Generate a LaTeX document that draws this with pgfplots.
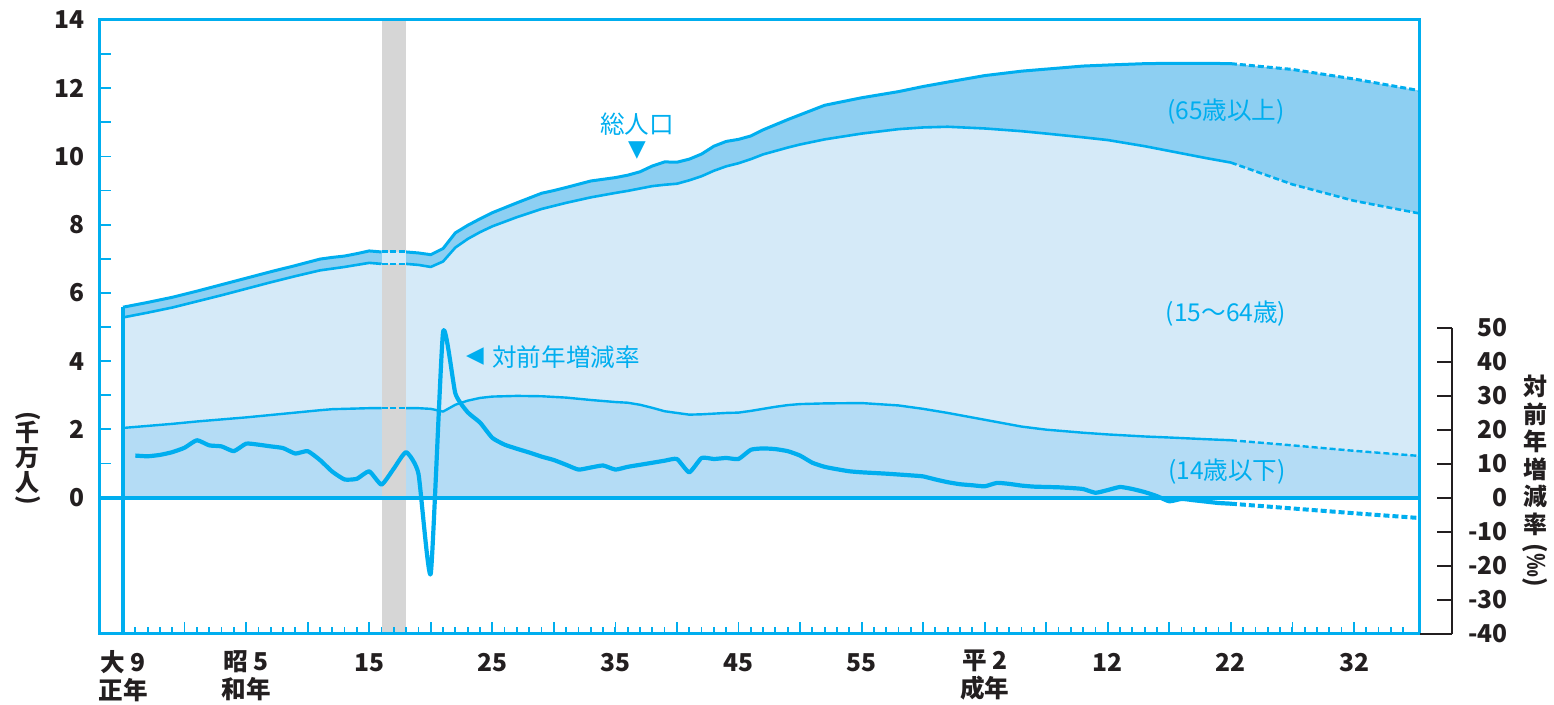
\documentclass[border=0pt]{standalone}
\usepackage{fontspec}
\setmainfont{Noto Sans CJK JP}
\newfontfamily\symfont{DejaVu Sans}
\usepackage{graphicx}
\usepackage{pgfplots}
\usepackage{pgfplotstable}
\pgfplotsset{compat=1.18}

\definecolor{cy}{RGB}{0,174,239}
\definecolor{bandA}{RGB}{141,207,242}
\definecolor{bandB}{RGB}{213,234,248}
\definecolor{bandC}{RGB}{180,220,245}
\definecolor{warband}{RGB}{214,214,214}
\definecolor{ink}{RGB}{35,31,32}

% year, total (T), 0-64 (M), 0-14 (Y)  [10 million persons]
\pgfplotstableread{
year T M Y
1920 5.58 5.28 2.04
1922 5.72 5.42 2.10
1924 5.87 5.57 2.16
1926 6.05 5.75 2.23
1928 6.24 5.93 2.29
1930 6.43 6.12 2.35
1932 6.62 6.31 2.42
1934 6.80 6.49 2.49
1936 6.99 6.66 2.56
1937 7.04 6.71 2.59
1938 7.08 6.76 2.60
1939 7.15 6.82 2.61
1940 7.23 6.88 2.62
1941 7.20 6.85 2.62
1943 7.20 6.85 2.62
1944 7.17 6.82 2.62
1945 7.12 6.76 2.60
1946 7.30 6.92 2.52
1947 7.76 7.33 2.72
1948 7.98 7.58 2.84
1949 8.17 7.78 2.92
1950 8.35 7.95 2.96
1952 8.64 8.22 2.98
1954 8.92 8.46 2.97
1955 9.00 8.55 2.95
1956 9.09 8.64 2.93
1958 9.28 8.80 2.86
1960 9.38 8.93 2.80
1961 9.45 8.99 2.78
1962 9.55 9.06 2.72
1963 9.72 9.13 2.63
1964 9.84 9.17 2.53
1965 9.83 9.20 2.48
1966 9.92 9.30 2.43
1967 10.07 9.42 2.44
1968 10.30 9.58 2.46
1969 10.44 9.71 2.48
1970 10.50 9.80 2.49
1971 10.60 9.92 2.54
1972 10.78 10.06 2.60
1973 10.93 10.16 2.66
1974 11.08 10.26 2.71
1975 11.22 10.35 2.74
1977 11.50 10.50 2.76
1980 11.72 10.67 2.77
1983 11.90 10.80 2.70
1985 12.05 10.85 2.60
1987 12.18 10.87 2.48
1990 12.37 10.82 2.28
1993 12.50 10.74 2.08
1995 12.56 10.67 1.99
1998 12.65 10.56 1.90
2000 12.68 10.48 1.85
2003 12.72 10.30 1.79
2005 12.73 10.16 1.76
2008 12.73 9.95 1.71
2010 12.72 9.82 1.68
2015 12.55 9.18 1.53
2020 12.27 8.70 1.37
2025.3 11.93 8.33 1.22
}\pop

% year, change on previous year (per mille)
\pgfplotstableread{
year r
1921 12.3
1922 12.1
1923 12.5
1924 13.3
1925 14.6
1926 16.8
1927 15.3
1928 15.0
1929 13.6
1930 15.8
1931 15.5
1932 15.0
1933 14.5
1934 12.9
1935 13.6
1936 11.0
1937 7.6
1938 5.3
1939 5.5
1940 7.7
1941 3.8
1942 8.5
1943 13.3
1944 7.0
1945 -22.3
1946 48.5
1947 30.5
1948 25.0
1949 22.0
1950 17.5
1951 15.5
1952 14.3
1953 13.2
1954 12.0
1955 11.0
1956 9.6
1957 8.2
1958 8.8
1959 9.4
1960 8.2
1961 9.0
1962 9.6
1963 10.2
1964 10.8
1965 11.3
1966 7.4
1967 11.6
1968 11.3
1969 11.6
1970 11.3
1971 14.0
1972 14.4
1973 14.2
1974 13.6
1975 12.3
1976 10.2
1977 9.0
1978 8.3
1979 7.7
1980 7.4
1982 7.0
1984 6.5
1985 6.2
1986 5.3
1987 4.5
1988 3.9
1989 3.6
1990 3.3
1991 4.3
1992 4.0
1993 3.5
1994 3.2
1995 3.1
1996 3.0
1997 2.8
1998 2.5
1999 1.4
2000 2.2
2001 3.1
2002 2.5
2003 1.6
2004 0.4
2005 -1.1
2006 -0.4
2007 -0.8
2008 -1.2
2009 -1.6
2010 -1.8
2015 -3.2
2020 -4.6
2025.3 -6.0
}\rate

\newcommand{\lbl}{\fontsize{12.3}{14}\selectfont}

\newcommand{\popline}[2]{%
 \addplot[cy, line width=#2, restrict x to domain=1920:1941] table[x=year,y=#1]{\pop};
 \addplot[cy, line width=#2, dash pattern=on 3pt off 1.3pt, restrict x to domain=1941:1943] table[x=year,y=#1]{\pop};
 \addplot[cy, line width=#2, restrict x to domain=1943:2010] table[x=year,y=#1]{\pop};
 \addplot[cy, line width=#2, dash pattern=on 3pt off 1.5pt, restrict x to domain=2010:2026] table[x=year,y=#1]{\pop};%
}

\begin{document}
\begin{tikzpicture}
\begin{axis}[
  at={(49.5pt,35.5pt)}, anchor=south west,
  scale only axis, width=660pt, height=307pt,
  xmin=1918.05, xmax=2025.28, ymin=-4, ymax=14,
  axis on top,
  axis line style={cy, line width=1.5pt},
  xtick={1920,1925,...,2020},
  xticklabels={{大 9\\正年},{},{昭 5\\和年},{},{\vphantom{大}15},{},{\vphantom{大}25},{},{\vphantom{大}35},{},{\vphantom{大}45},{},{\vphantom{大}55},{},{平 2\\成年},{},{\vphantom{大}12},{},{\vphantom{大}22},{},{\vphantom{大}32}},
  minor xtick={1921,1922,...,2024},
  ytick={0,1,...,14},
  yticklabels={0,,2,,4,,6,,8,,10,,12,,14},
  xtick pos=bottom, ytick pos=left,
  tick align=inside,
  major tick length=6pt, minor tick length=3.5pt,
  tick style={cy, line width=0.9pt},
  tick label style={font=\lbl\bfseries, text=ink},
  yticklabel style={anchor=east, inner sep=0pt, xshift=-7pt},
  xticklabel style={anchor=north, inner sep=0pt, yshift=-8pt, align=center},
  no markers,
  every axis plot/.append style={line join=round},
]
\addplot[fill=bandA, draw=none] table[x=year,y=T]{\pop} \closedcycle;
\addplot[fill=bandB, draw=none] table[x=year,y=M]{\pop} \closedcycle;
\addplot[fill=bandC, draw=none] table[x=year,y=Y]{\pop} \closedcycle;
\addplot[fill=warband, draw=none] coordinates {(1941,-4) (1943,-4) (1943,14) (1941,14)} -- cycle;
\addplot[fill=bandB, draw=none] coordinates {(1941,7.20) (1943,7.20) (1943,6.85) (1941,6.85)} -- cycle;
\popline{T}{1.5pt}
\popline{M}{1.3pt}
\popline{Y}{1.2pt}
\addplot[cy, line width=2pt] coordinates {(1918.05,0) (2025.28,0)};
\addplot[cy, line width=1.6pt] coordinates {(1920,-4) (1920,5.58)};
\end{axis}

\begin{axis}[
  at={(49.5pt,35.5pt)}, anchor=south west,
  scale only axis, width=660pt, height=307pt,
  xmin=1918.05, xmax=2025.28, ymin=-40, ymax=140,
  hide axis, no markers,
]
\addplot[cy, line width=2.1pt, line join=round, smooth, tension=0.3, restrict x to domain=1921:2010] table[x=year,y=r]{\rate};
\addplot[cy, line width=2pt, dash pattern=on 3pt off 1.5pt, restrict x to domain=2010:2026] table[x=year,y=r]{\rate};
\end{axis}

\begin{axis}[
  at={(710pt,35.5pt)}, anchor=south west,
  scale only axis, width=16pt, height=153pt,
  xmin=0, xmax=1, ymin=-40, ymax=50,
  axis x line=none, axis y line=right,
  axis line style={-, ink, line width=1.2pt},
  every outer y axis line/.append style={-},
  every inner y axis line/.append style={-},
  ytick={-40,-30,...,50},
  yticklabels={-40,-30,-20,-10,0,10,20,30,40,50},
  tick align=inside, major tick length=7.5pt,
  tick style={ink, line width=1.2pt},
  yticklabel style={font=\lbl\bfseries, text=ink, anchor=east, inner sep=0pt, xshift=28pt},
  clip=false, no markers,
]
\addplot[ink, line width=1.2pt] coordinates {(0,-40) (1,-40)};
\end{axis}

% annotations
\node[font=\lbl, text=cy, inner sep=0pt] at (318.5pt,290.5pt) {総人口};
\node[font=\symfont\fontsize{11.5}{12}\selectfont, text=cy, inner sep=0pt] at (318.5pt,277pt) {▼};
\node[font=\symfont\fontsize{11.5}{12}\selectfont, text=cy, inner sep=0pt] at (237.5pt,174pt) {◀};
\node[font=\lbl, text=cy, inner sep=0pt] at (283pt,174pt) {対前年増減率};
\node[font=\lbl, text=cy, inner sep=0pt] at (613pt,296.5pt) {(65歳以上)};
\node[font=\lbl, text=cy, inner sep=0pt] at (613pt,195.5pt) {(15〜64歳)};
\node[font=\lbl, text=cy, inner sep=0pt] at (613.5pt,116.5pt) {(14歳以下)};

\node[font=\fontsize{12}{12.5}\selectfont\bfseries, text=ink, align=center, inner sep=0pt] at (14pt,122.5pt)
  {\rotatebox[origin=c]{-90}{(}\\[-4pt]千\\万\\人\\[-4pt]\rotatebox[origin=c]{-90}{)}};
\node[font=\fontsize{12}{13.75}\selectfont\bfseries, text=ink, align=center, inner sep=0pt] at (767.5pt,112pt)
  {対\\前\\年\\増\\減\\率\\[3pt]\rotatebox[origin=c]{-90}{(‰)}};

\pgfresetboundingbox
\useasboundingbox (0,0) rectangle (777pt,352.5pt);
\end{tikzpicture}
\end{document}
